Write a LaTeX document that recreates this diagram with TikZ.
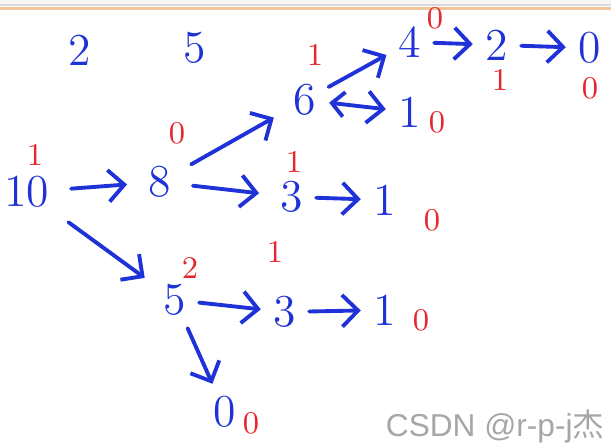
\documentclass[tikz,border=0pt]{standalone}
\usepackage{fontspec}
\newfontfamily\cjk{Noto Sans CJK SC}
\newfontfamily\wmfont{Liberation Sans}
\usetikzlibrary{arrows.meta}
\definecolor{inkblue}{RGB}{30,50,215}
\definecolor{inkred}{RGB}{230,40,45}
\tikzset{
  num/.style={text=inkblue, font=\fontsize{13}{15}\selectfont, inner sep=2pt},
  cnt/.style={text=inkred, font=\fontsize{9}{11}\selectfont, inner sep=0pt},
  edge/.style={draw=inkblue, line width=1.1pt, line cap=round,
    shorten <=1.5pt, shorten >=1.5pt,
    -{Straight Barb[length=4.5pt,width=9pt,line width=1.1pt]}},
  far/.style={shorten <=4pt, shorten >=4pt},
}
\begin{document}
\begin{tikzpicture}[x=1cm, y=-1cm]
  \useasboundingbox (0,0) rectangle (6.11,4.43);
  % 1. window border at the top
  \fill[gray!8] (0,0) rectangle (6.11,0.05);
  \draw[gray!30, thin] (0,0.05) -- (6.11,0.05);
  \draw[orange!50!brown!45, line width=0.8pt] (0,0.085) -- (6.11,0.085);

  % 2. loose numbers
  \node[num] (t2) at (0.80,0.50) {2};
  \node[num] (t5) at (1.95,0.48) {5};

  % 3. tree numbers
  \node[num] (n10) at (0.27,1.92) {10};
  \node[num] (n8)  at (1.60,1.82) {8};
  \node[num] (n6)  at (3.05,1.00) {6};
  \node[num] (n4)  at (4.10,0.42) {4};
  \node[num] (n2)  at (4.97,0.45) {2};
  \node[num] (n0a) at (5.90,0.48) {0};
  \node[num] (n1a) at (4.10,1.12) {1};
  \node[num] (n3a) at (2.92,1.97) {3};
  \node[num] (n1b) at (3.85,2.00) {1};
  \node[num] (n5)  at (1.75,3.00) {5};
  \node[num] (n3b) at (2.85,3.12) {3};
  \node[num] (n1c) at (3.85,3.10) {1};
  \node[num] (n0b) at (2.25,4.12) {0};

  % 4. red counts
  \node[cnt] (c10) at (0.35,1.55) {1};
  \node[cnt] (c8)  at (1.77,1.33) {0};
  \node[cnt] (c6)  at (3.15,0.55) {1};
  \node[cnt] (c4)  at (4.35,0.18) {0};
  \node[cnt] (c2)  at (5.00,0.80) {1};
  \node[cnt] (c0a) at (5.90,0.88) {0};
  \node[cnt] (c1a) at (4.37,1.22) {0};
  \node[cnt] (c3a) at (2.94,1.62) {1};
  \node[cnt] (c1b) at (4.32,2.20) {0};
  \node[cnt] (c5)  at (1.90,2.68) {2};
  \node[cnt] (c3b) at (2.75,2.52) {1};
  \node[cnt] (c1c) at (4.21,3.20) {0};
  \node[cnt] (c0b) at (2.51,4.23) {0};

  % 5. connectors
  \draw[edge, far] (n10) -- (n8);
  \draw[edge, far] (n10) -- (n5);
  \draw[edge, far] (n8) -- (n6);
  \draw[edge, far] (n8) -- (n3a);
  \draw[edge] (n6) -- (n4);
  \draw[edge, {Straight Barb[length=3.5pt,width=7pt,line width=1.1pt]}-{Straight Barb[length=4.5pt,width=9pt,line width=1.1pt]}] (n6) -- (n1a);
  \draw[edge] (n4) -- (n2);
  \draw[edge] (n2) -- (n0a);
  \draw[edge] (n3a) -- (n1b);
  \draw[edge] (n5) -- (n3b);
  \draw[edge] (n3b) -- (n1c);
  \draw[edge] (n5) -- (n0b);

  % 6. watermark
  \node[text=gray!70, font=\wmfont\fontsize{9}{10}\selectfont, anchor=east, inner sep=0pt] (wm) at (6.05,4.27) {CSDN @r-p-j{\cjk 杰}};
\end{tikzpicture}
\end{document}
